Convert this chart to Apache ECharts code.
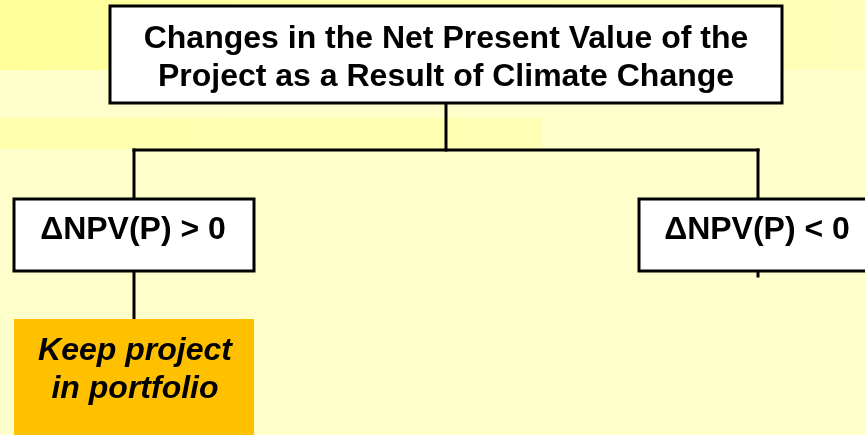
<!DOCTYPE html>
<html>
<head>
<meta charset="utf-8">
<script src="https://cdn.jsdelivr.net/npm/echarts@6/dist/echarts.min.js"></script>
<style>html,body{margin:0;padding:0;background:#FFFFCC;}#c{width:865px;height:435px;}</style>
</head>
<body>
<div id="c"></div>
<script>
// Diagram nodes (data units: a 865 x 435 canvas-like space)
const nodeLabels = [
  'Changes in the Net Present Value of the\nProject as a Result of Climate Change',
  'ΔNPV(P) > 0',
  'ΔNPV(P) < 0',
  'Keep project\nin portfolio'
];
const nodeLeft   = [110, 14, 639, 14];
const nodeTop    = [6, 199, 199, 319];
const nodeRight  = [782, 254, 875, 254];
const nodeBottom = [103, 271, 271, 445];
const nodeTextY  = [58, 230, 230, 370];
const nodeTextX  = [446, 133, 757, 135];
const nodeFill   = ['#FFFFFF', '#FFFFFF', '#FFFFFF', '#FFC000'];
const nodeItalic = [false, false, false, true];
const nodeBorder = [true, true, true, false];

// Connector segments [x0, y0, x1, y1]
const connectors = [
  [446, 103, 446, 150],
  [134, 150, 758, 150],
  [134, 150, 134, 199],
  [758, 150, 758, 199],
  [134, 271, 134, 319],
  [758, 271, 758, 276]
];

const chart = echarts.init(document.getElementById('c'), null, {renderer: 'canvas'});

const nodeData = nodeLabels.map((t, i) => [nodeLeft[i], nodeTop[i], nodeRight[i], nodeBottom[i], nodeTextX[i], nodeTextY[i], i]);

chart.setOption({
  backgroundColor: '#FFFFCC',
  animation: false,
  grid: {left: 0, right: 0, top: 0, bottom: 0},
  xAxis: {type: 'value', min: 0, max: 865, show: false},
  yAxis: {type: 'value', min: 0, max: 435, inverse: true, show: false},
  graphic: [
    {type: 'rect', z: -10, shape: {x: 0, y: 0, width: 865, height: 70},
     style: {fill: new echarts.graphic.LinearGradient(0, 0, 1, 0, [
       {offset: 0, color: '#FFFF99'}, {offset: 1, color: '#FFFFBC'}])}},
    {type: 'rect', z: -10, shape: {x: 0, y: 118, width: 542, height: 31},
     style: {fill: new echarts.graphic.LinearGradient(0, 0, 1, 0, [
       {offset: 0, color: '#FFFFAC'}, {offset: 1, color: '#FFFFB4'}])}}
  ],
  series: [
    {
      type: 'custom',
      z: 2,
      silent: true,
      data: connectors,
      renderItem: function (params, api) {
        const a = api.coord([api.value(0), api.value(1)]);
        const b = api.coord([api.value(2), api.value(3)]);
        return {
          type: 'line',
          shape: {x1: a[0], y1: a[1], x2: b[0], y2: b[1]},
          style: {stroke: '#000', lineWidth: 3, lineCap: 'square'}
        };
      }
    },
    {
      type: 'custom',
      z: 3,
      silent: true,
      data: nodeData,
      renderItem: function (params, api) {
        const i = api.value(6);
        const p0 = api.coord([api.value(0), api.value(1)]);
        const p1 = api.coord([api.value(2), api.value(3)]);
        const t = api.coord([api.value(4), api.value(5)]);
        return {
          type: 'group',
          children: [
            {
              type: 'rect',
              shape: {x: p0[0], y: p0[1], width: p1[0] - p0[0], height: p1[1] - p0[1]},
              style: {fill: nodeFill[i], stroke: nodeBorder[i] ? '#000' : null, lineWidth: nodeBorder[i] ? 3 : 0}
            },
            {
              type: 'text',
              x: t[0],
              y: t[1],
              style: {
                text: nodeLabels[i],
                fill: '#000',
                font: (nodeItalic[i] ? 'italic ' : '') + 'bold 32px "Liberation Sans", Arial, sans-serif',
                align: 'center',
                verticalAlign: 'middle',
                lineHeight: 38
              }
            }
          ]
        };
      }
    }
  ]
});
</script>
</body>
</html>
